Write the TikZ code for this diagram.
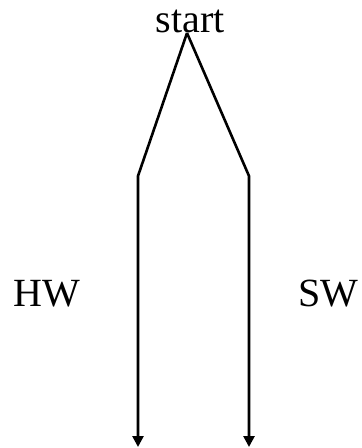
\documentclass[tikz,border=0pt]{standalone}
\usepackage{fontspec}
\setmainfont{Liberation Serif}
\usetikzlibrary{arrows.meta,positioning}
\tikzset{
branchlabel/.style={anchor=base,inner sep=0pt,font=\fontsize{20}{24}\selectfont},
brancharr/.style={line width=1.3pt,-{Triangle[width=5.5pt,length=5.5pt]}},
branchline/.style={line width=1.3pt}
}
\begin{document}
\begin{tikzpicture}[x=0.5pt,y=-0.5pt]
\useasboundingbox (0,0) rectangle (361,448);
\node[branchlabel] (start) at (190,33) {start};
\coordinate (apex) at (187,33);
\coordinate (hwbend) at (138,176);
\coordinate (swbend) at (249,176);
\coordinate (hwend) at (138,447);
\coordinate (swend) at (249,447);
\node[branchlabel] (hw) at (47,306) {HW};
\node[branchlabel] (sw) at (328,306) {SW};
\draw[brancharr] (apex) -- (hwbend) -- (hwend);
\draw[brancharr] (apex) -- (swbend) -- (swend);
\end{tikzpicture}
\end{document}
